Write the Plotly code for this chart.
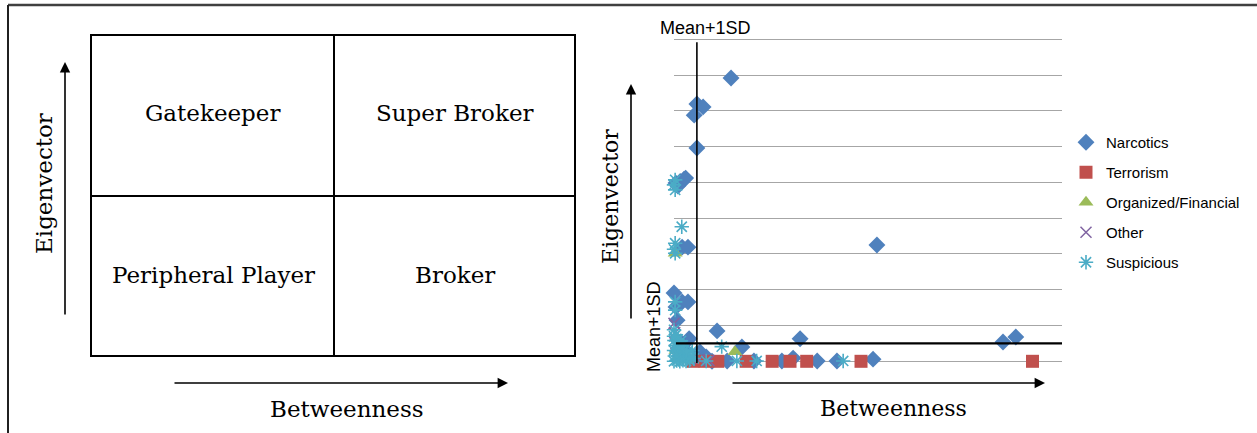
import plotly.graph_objects as go

W, H = 1257, 433

# ---------------- data (right-hand scatter) ----------------
narc_x = [14.7, 5.9, 7.5, 5.2, 5.9, 1.6, 2.6, 1.0, 0.5, 2.1, 3.6, 52.3, 0.0, 2.1, 3.6, 0.5,
          11.1, 3.9, 32.5, 17.5, 84.8, 88.1, 51.3, 42.0, 36.9, 30.7, 27.8, 20.6, 13.7,
          6.7, 8.3, 1.6, 2.8, 9.8, 0.8, 3.0]
narc_y = [7.92, 7.19, 7.11, 6.88, 5.96, 5.03, 5.09, 4.90, 4.98, 3.19, 3.19, 3.25, 1.91, 1.66,
          1.66, 1.52, 0.85, 0.63, 0.63, 0.40, 0.54, 0.68, 0.06, 0.01, 0.01, 0.09, 0.01, 0.01,
          0.01, 0.26, 0.12, 0.54, 0.32, 0.0, 1.15, 5.12]

terr_x = [4.9, 8.0, 11.3, 18.6, 25.3, 29.9, 34.2, 48.2, 92.4]
terr_y = [0.0, 0.0, 0.0, 0.0, 0.0, 0.0, 0.0, 0.0, 0.0]

org_x = [15.7, 0.3, 0.5, 1.0, 3.0]
org_y = [0.27, 3.02, 0.30, 0.10, 0.05]

other_x = [0.0, 0.2, 6.5, 1.5, 0.5, 9.0]
other_y = [1.06, 0.80, 0.05, 0.20, 0.50, 0.02]

susp_x = [0.0, 0.3, 0.3, 2.0, 0.3, 0.3, 0.0, 0.3, 0.3, 0.0, 0.5, 12.3, 16.2, 21.3, 43.6, 8.3,
          0.0, 0.7, 1.5, 2.3, 3.1, 4.0, 0.2, 1.1, 1.9, 2.7, 3.5, 4.4, 0.0, 0.8, 1.6, 2.4,
          3.3, 0.4, 1.3, 2.1, 0.1, 0.9, 1.8, 0.0, 5.1, 4.7]
susp_y = [4.93, 5.07, 4.79, 3.76, 3.30, 3.02, 3.13, 1.66, 1.43, 0.88, 0.74, 0.41, 0.01, 0.01,
          0.01, 0.01, 0.00, 0.02, 0.00, 0.03, 0.01, 0.02, 0.15, 0.13, 0.17, 0.14, 0.16,
          0.12, 0.30, 0.28, 0.31, 0.29, 0.27, 0.44, 0.42, 0.45, 0.58, 0.61, 0.57, 0.70,
          0.08, 0.30]

mean_sd_x = 5.9     # Mean+1SD betweenness
mean_sd_y = 0.5     # Mean+1SD eigenvector

x_range = [0, 100]
y_range = [-0.06, 9.06]

quadrant_labels = ["Gatekeeper", "Super Broker", "Peripheral Player", "Broker"]

# ---------------- helpers ----------------
def px(x):
    return x / W

def py(y):
    return 1 - y / H

fig = go.Figure()

series = [
    ("Narcotics", narc_x, narc_y, "diamond", "#4F81BD", 13, 0),
    ("Terrorism", terr_x, terr_y, "square", "#C0504D", 13, 0),
    ("Organized/Financial", org_x, org_y, "triangle-up", "#9BBB59", 13, 0),
    ("Other", other_x, other_y, "x-thin-open", "#8064A2", 11, 1.5),
    ("Suspicious", susp_x, susp_y, "asterisk-open", "#4BACC6", 12, 1.6),
]
for i, (name, xs, ys, sym, col, size, lw) in enumerate(series):
    marker = dict(symbol=sym, color=col, size=size)
    if lw:
        marker["line"] = dict(color=col, width=lw)
    else:
        marker["line"] = dict(width=0)
    fig.add_trace(go.Scatter(x=xs, y=ys, mode="markers", name=name, marker=marker,
                             legendgroup=name, cliponaxis=False))

unit = (361.3 - 39.3) / 9.0
dom_x = [px(674), px(1062)]
dom_y = [py(361.3 - y_range[0] * unit), py(361.3 - y_range[1] * unit)]

fig.update_xaxes(domain=dom_x, range=x_range, showgrid=False, zeroline=False,
                 showticklabels=False, ticks="", showline=False)
fig.update_yaxes(domain=dom_y, range=y_range, dtick=1,
                 tick0=0, showgrid=True, gridcolor="#A6A6A6", gridwidth=1.2, zeroline=False,
                 showticklabels=False, ticks="", showline=False)

shapes = []
ann = []
serif = "DejaVu Serif"
sans = "Liberation Sans"

# frame
shapes.append(dict(type="line", xref="paper", yref="paper", x0=px(8), x1=px(1257),
                   y0=py(5), y1=py(5), line=dict(color="#404040", width=2.5)))
shapes.append(dict(type="line", xref="paper", yref="paper", x0=px(8), x1=px(8),
                   y0=py(5), y1=py(433), line=dict(color="#202020", width=2)))

# left quadrant box
bl, br, bt, bb, bmx, bmy = 91, 575, 35, 356, 334, 196
shapes.append(dict(type="rect", xref="paper", yref="paper", x0=px(bl), x1=px(br),
                   y0=py(bb), y1=py(bt), line=dict(color="black", width=2)))
shapes.append(dict(type="line", xref="paper", yref="paper", x0=px(bmx), x1=px(bmx),
                   y0=py(bb), y1=py(bt), line=dict(color="black", width=2)))
shapes.append(dict(type="line", xref="paper", yref="paper", x0=px(bl), x1=px(br),
                   y0=py(bmy), y1=py(bmy), line=dict(color="black", width=2)))


def label(text, x, y, size, family, angle=0):
    ann.append(dict(text=text, x=px(x), y=py(y), xref="paper", yref="paper", showarrow=False,
                    xanchor="center", yanchor="middle", textangle=angle,
                    font=dict(family=family, size=size, color="black")))


pos = [(212, 113), (455, 113), (213, 275), (455, 275)]
for t, (x, y) in zip(quadrant_labels, pos):
    label(t, x, y, 23, serif)

# arrows (tail x0,y0 -> head x1,y1 in page pixels)
def arrow(x0, y0, x1, y1):
    ann.append(dict(text="", x=px(x1), y=py(y1), xref="paper", yref="paper",
                    ax=x0 - x1, ay=y0 - y1, axref="pixel", ayref="pixel", showarrow=True,
                    arrowhead=2, arrowsize=1.3, arrowwidth=1.6, arrowcolor="black",
                    standoff=0, startstandoff=0))

arrow(65, 316, 65, 62)
arrow(173, 383, 508, 383)
arrow(631, 320, 631, 84)
arrow(731, 383, 1045, 383)

label("Eigenvector", 44, 184, 23, serif, -90)
label("Betweenness", 347, 409, 23, serif)
label("Eigenvector", 610, 197, 22, serif, -90)
label("Betweenness", 893, 408, 22, serif)

# Mean+1SD lines
shapes.append(dict(type="line", xref="x", yref="y", x0=mean_sd_x, x1=mean_sd_x,
                   y0=-0.05, y1=8.92, line=dict(color="black", width=1.6)))
shapes.append(dict(type="line", xref="x", yref="y", x0=0.5, x1=x_range[1],
                   y0=mean_sd_y, y1=mean_sd_y, line=dict(color="black", width=2.2)))

label("Mean+1SD", 705, 28, 18, sans)
label("Mean+1SD", 654, 327, 18, sans, -90)

fig.update_layout(
    width=W, height=H, autosize=False,
    margin=dict(l=0, r=0, t=0, b=0),
    paper_bgcolor="white", plot_bgcolor="white",
    shapes=shapes, annotations=ann,
    showlegend=True,
    legend=dict(x=px(1066), y=py(126), xanchor="left", yanchor="top",
                font=dict(family=sans, size=15, color="black"),
                tracegroupgap=7.5, itemwidth=30, bgcolor="rgba(0,0,0,0)",
                borderwidth=0),
)

fig.write_html("out.html", config={"displayModeBar": False},
               post_script="document.body.style.margin='0';")
